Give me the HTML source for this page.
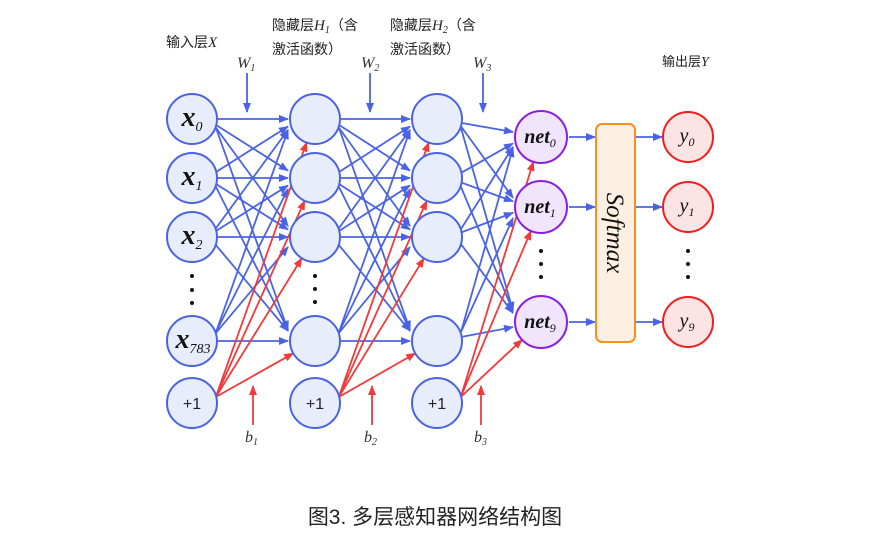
<!DOCTYPE html>
<html><head><meta charset="utf-8">
<style>
html,body{margin:0;padding:0;background:#fff;}
body{width:875px;height:538px;overflow:hidden;}
svg text{font-family:"Liberation Serif","Noto Serif CJK SC",serif;}
.cn{font-family:"Liberation Sans","Noto Sans CJK SC",sans-serif;font-size:14px;fill:#222;}
</style></head>
<body>
<svg id="s" width="875" height="538" viewBox="0 0 875 538" xmlns="http://www.w3.org/2000/svg">
<defs>
<marker id="ab" markerWidth="10" markerHeight="8" refX="9" refY="4" orient="auto" markerUnits="userSpaceOnUse"><path d="M0,0 L10,4 L0,8 z" fill="#4a63e6"/></marker>
<marker id="ar" markerWidth="10" markerHeight="8" refX="9" refY="4" orient="auto" markerUnits="userSpaceOnUse"><path d="M0,0 L10,4 L0,8 z" fill="#f23a3a"/></marker>
</defs>
<g id="lines"></g>
<g id="nodes"></g>
<text x="166" y="47" class="cn">输入层<tspan font-family="Liberation Serif" font-style="italic" font-size="15">X</tspan></text>
<text x="272" y="30" class="cn">隐藏层<tspan font-family="Liberation Serif" font-style="italic" font-size="15">H</tspan><tspan font-family="Liberation Serif" font-style="italic" font-size="10" dy="3">1</tspan><tspan dy="-3">（含</tspan></text>
<text x="272" y="54" class="cn">激活函数）</text>
<text x="390" y="30" class="cn">隐藏层<tspan font-family="Liberation Serif" font-style="italic" font-size="15">H</tspan><tspan font-family="Liberation Serif" font-style="italic" font-size="10" dy="3">2</tspan><tspan dy="-3">（含</tspan></text>
<text x="390" y="54" class="cn">激活函数）</text>
<text x="662" y="66" class="cn" font-size="13" style="font-size:13px">输出层<tspan font-family="Liberation Serif" font-style="italic" font-size="14">Y</tspan></text>
<g font-style="italic" font-size="16" fill="#333">
<text x="237" y="68">W<tspan font-size="10" dy="3">1</tspan></text>
<text x="361" y="68">W<tspan font-size="10" dy="3">2</tspan></text>
<text x="473" y="68">W<tspan font-size="10" dy="3">3</tspan></text>
<text x="245" y="442">b<tspan font-size="10" dy="3">1</tspan></text>
<text x="364" y="442">b<tspan font-size="10" dy="3">2</tspan></text>
<text x="474" y="442">b<tspan font-size="10" dy="3">3</tspan></text>
</g>
<text x="435" y="524" text-anchor="middle" style="font-family:'Liberation Sans','Noto Sans CJK SC',sans-serif" font-size="21" fill="#222">图3. 多层感知器网络结构图</text>
</svg>
<script>
var NS="http://www.w3.org/2000/svg";
var L=document.getElementById('lines'),N=document.getElementById('nodes');
function el(p,t,a,txt){var e=document.createElementNS(NS,t);for(var k in a)e.setAttribute(k,a[k]);if(txt)e.innerHTML=txt;p.appendChild(e);return e;}
var R=25, ys=[119,178,237,341], by=403;
var X0=192,X1=315,X2=437,XN=541,XY=688;
var nys=[137,207,322], RN=26;
function arrow(x1,y1,x2,y2,c){el(L,'line',{x1:x1,y1:y1,x2:x2,y2:y2,stroke:c=='r'?'#f23a3a':'#4a63e6','stroke-width':1.8,'marker-end':c=='r'?'url(#ar)':'url(#ab)'});}
[[X0,X1,ys,ys,R],[X1,X2,ys,ys,R],[X2,XN,ys,nys,RN]].forEach(function(p){
 p[2].forEach(function(sy){p[3].forEach(function(ty){
  var sx=p[0]+R, dy=ty-sy, s=dy==0?0:(dy>0?1:-1);
  var mag=Math.min(1,Math.abs(dy)/120);
  var ex=p[1]-p[4]-2, ey=ty-s*(4+7*mag);
  var sty=sy+s*(3+6*mag);
  arrow(sx-1,sty,ex,ey,'b');});});
});
[[X0,X1,ys,R],[X1,X2,ys,R],[X2,XN,nys,RN]].forEach(function(p){
 p[2].forEach(function(ty){
  var sx=p[0]+R*0.95, sy=by-6;
  var cx=p[1],cy=ty,dx=cx-sx,dy=cy-sy,d=Math.sqrt(dx*dx+dy*dy);
  arrow(sx,sy,cx-p[3]*dx/d,cy-p[3]*dy/d,'r');});
});
[247,370,483].forEach(function(x){arrow(x,73,x,112,'b');});
[253,372,481].forEach(function(x){arrow(x,425,x,386,'r');});
nys.forEach(function(y){arrow(XN+RN+2,y,595,y,'b');arrow(636,y,XY-R-1,y,'b');});
function circ(x,y,r,f,s){el(N,'circle',{cx:x,cy:y,r:r,fill:f,stroke:s,'stroke-width':2});}
[X0,X1,X2].forEach(function(x){ys.forEach(function(y){circ(x,y,R,'#e8edfc','#4a63e6');});circ(x,by,R,'#e8edfc','#4a63e6');
 el(N,'text',{x:x,y:by+6,'text-anchor':'middle','font-size':16,fill:'#222',style:"font-family:'Liberation Sans',sans-serif"},'+1');});
nys.forEach(function(y,i){circ(XN,y,RN,'#f1e4fd','#8a1ee6');
 el(N,'text',{x:XN-1,y:y+6,'text-anchor':'middle','font-size':20,'font-style':'italic','font-weight':'bold',fill:'#111'},'net<tspan font-size="12" dy="4" font-weight="normal">'+['0','1','9'][i]+'</tspan>');
 circ(XY,y,R,'#fde4e4','#f21e1e');
 el(N,'text',{x:XY-1,y:y+5,'text-anchor':'middle','font-size':20,'font-style':'italic',fill:'#111'},'y<tspan font-size="12" dy="4">'+['0','1','9'][i]+'</tspan>');});
['0','1','2','783'].forEach(function(s,i){
 el(N,'text',{x:i==3?X0+1:X0,y:ys[i]+7,'text-anchor':'middle','font-size':28,'font-style':'italic','font-weight':'bold',fill:'#111'},'x<tspan font-size="14" font-weight="normal" dy="5">'+s+'</tspan>');});
[[X0,[276,290,303]],[X1,[276,289,302]],[XN,[251,264,277]],[XY,[251,264,277]]].forEach(function(d){d[1].forEach(function(y){el(N,'circle',{cx:d[0],cy:y,r:2,fill:'#111'});});});
el(N,'rect',{x:596,y:124,width:39,height:218,rx:6,fill:'#fdf0e2',stroke:'#f5901e','stroke-width':2});
el(N,'text',{x:0,y:0,transform:'translate(607,233) rotate(90)','text-anchor':'middle','font-size':25,'font-style':'italic',fill:'#111'},'Softmax');
</script>
</body></html>
